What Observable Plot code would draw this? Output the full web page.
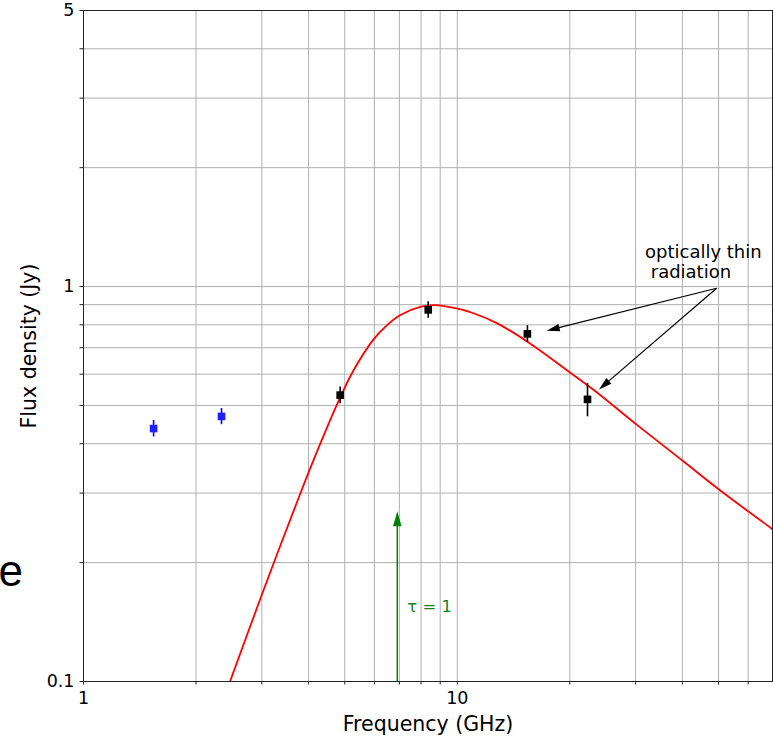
<!DOCTYPE html>
<html>
<head>
<meta charset="utf-8">
<script src="https://cdn.jsdelivr.net/npm/d3@7"></script>
<script src="https://cdn.jsdelivr.net/npm/@observablehq/plot@0.6"></script>
<style>
  html, body { margin: 0; padding: 0; background: #fff; }
  #chart svg { display: block; }
</style>
</head>
<body>
<div id="chart"></div>
<script>
// ---- axis ticks ----
const xTicks = [1, 2, 3, 4, 5, 6, 7, 8, 9, 10, 20, 30, 40, 50, 60];
const xTickLabels = [1, 10];
const yTicks = [0.1, 0.2, 0.3, 0.4, 0.5, 0.6, 0.7, 0.8, 0.9, 1, 2, 3, 4, 5];
const yTickLabels = [0.1, 1, 5];
const xDomain = [1, 69.7];
const yDomain = [0.1, 5];

// ---- low-frequency points (blue) ----
const lowFreq = [1.54, 2.34];
const lowFlux = [0.437, 0.469];
const lowErr = [0.021, 0.022];

// ---- fitted points (black) ----
const mainFreq = [4.86, 8.36, 15.4, 22.3];
const mainFlux = [0.531, 0.873, 0.759, 0.518];
const mainErr = [0.026, 0.042, 0.037, 0.050];

// ---- fitted spectrum (red) ----
const fitFreq = [2.466, 3.008, 3.795, 4.3, 4.857, 5.27, 5.962, 6.5, 7.027, 8.0, 8.72, 9.96, 11.0, 12.75, 15.65, 20.02, 23.6, 30.19, 40.24, 50.44, 69.7];
const fitFlux = [0.100, 0.167, 0.298, 0.400, 0.523, 0.612, 0.734, 0.800, 0.846, 0.889, 0.897, 0.880, 0.857, 0.808, 0.718, 0.606, 0.540, 0.447, 0.361, 0.305, 0.243];

// ---- annotations ----
const tauFreq = 6.91;
const tauTip = 0.270;
const tauLabel = "τ = 1";
const tauLabelPos = [7.35, 0.150];
const noteText = "optically thin\n\u00a0radiation";
const notePos = [31.78, 1.049];
const noteFrom = [49.4, 0.990];
const noteToFreq = [17.35, 23.94];
const noteToFlux = [0.773, 0.549];

const xAxisLabel = "Frequency (GHz)";
const yAxisLabel = "Flux density (Jy)";
const panelLabel = "e";

// ---- layout ----
const W = 773, H = 738;
const M = {top: 10, right: 1, bottom: 57, left: 83};

const low = lowFreq.map((f, i) => ({f, s: lowFlux[i], lo: lowFlux[i] - lowErr[i], hi: lowFlux[i] + lowErr[i]}));
const main = mainFreq.map((f, i) => ({f, s: mainFlux[i], lo: mainFlux[i] - mainErr[i], hi: mainFlux[i] + mainErr[i]}));
const fit = fitFreq.map((f, i) => ({f, s: fitFlux[i]}));

// library scales to compute arrowhead orientations
const sx = Plot.scale({x: {type: "log", domain: xDomain, range: [M.left, W - M.right]}});
const sy = Plot.scale({y: {type: "log", domain: yDomain, range: [H - M.bottom, M.top]}});

function headAngle(x1, y1, x2, y2) {
  const dx = sx.apply(x2) - sx.apply(x1);
  const dy = sy.apply(y2) - sy.apply(y1);
  return Math.atan2(dx, -dy) * 180 / Math.PI;
}
function headBase(x1, y1, x2, y2, len) {
  const px1 = sx.apply(x1), py1 = sy.apply(y1), px2 = sx.apply(x2), py2 = sy.apply(y2);
  const d = Math.hypot(px2 - px1, py2 - py1);
  const t = (d - len * 0.8) / d;
  return [sx.invert(px1 + (px2 - px1) * t), sy.invert(py1 + (py2 - py1) * t)];
}
const arrowHead = (len, wid) => ({
  draw(ctx) {
    ctx.moveTo(0, 0);
    ctx.lineTo(wid / 2, len);
    ctx.lineTo(-wid / 2, len);
    ctx.closePath();
  }
});

const notes = noteToFreq.map((f, i) => {
  const b = headBase(noteFrom[0], noteFrom[1], f, noteToFlux[i], 13);
  return {x1: noteFrom[0], y1: noteFrom[1], x2: f, y2: noteToFlux[i], bx: b[0], by: b[1],
          a: headAngle(noteFrom[0], noteFrom[1], f, noteToFlux[i])};
});
const tauBase = headBase(tauFreq, yDomain[0], tauFreq, tauTip, 14);
const tauArrow = [{x: tauFreq, y1: yDomain[0], y2: tauTip, by: tauBase[1], a: headAngle(tauFreq, yDomain[0], tauFreq, tauTip)}];

const chart = Plot.plot({
  width: W,
  height: H,
  marginTop: M.top,
  marginRight: M.right,
  marginBottom: M.bottom,
  marginLeft: M.left,
  style: {fontFamily: "'DejaVu Sans', sans-serif", fontSize: "17px", color: "#000", background: "#fff", overflow: "visible"},
  x: {type: "log", domain: xDomain},
  y: {type: "log", domain: yDomain},
  marks: [
    Plot.gridX(xTicks, {stroke: "#b0b0b0", strokeOpacity: 1, strokeWidth: 1}),
    Plot.gridY(yTicks, {stroke: "#b0b0b0", strokeOpacity: 1, strokeWidth: 1}),
    Plot.axisX(xTicks, {tickFormat: d => xTickLabels.includes(d) ? String(d) : "", tickSize: 3.5, tickPadding: 7, fontSize: 17.5, label: null, stroke: "#222"}),
    Plot.axisY(yTicks, {tickFormat: d => yTickLabels.includes(d) ? String(d) : "", tickSize: 3.5, tickPadding: 5.5, fontSize: 17.5, label: null, stroke: "#222"}),
    Plot.frame({stroke: "#222", strokeWidth: 1}),
    // fitted spectrum
    Plot.line(fit, {x: "f", y: "s", stroke: "#ff0000", strokeWidth: 1.8, curve: "catmull-rom", clip: true}),
    // error bars and markers
    Plot.ruleX(low, {x: "f", y1: "lo", y2: "hi", stroke: "#0000ff", strokeWidth: 1.6}),
    Plot.dot(low, {x: "f", y: "s", symbol: "square", r: 4.3, fill: "#2020ff", stroke: "none"}),
    Plot.ruleX(main, {x: "f", y1: "lo", y2: "hi", stroke: "#000", strokeWidth: 1.6}),
    Plot.dot(main, {x: "f", y: "s", symbol: "square", r: 4.3, fill: "#000", stroke: "none"}),
    // tau = 1 arrow
    Plot.ruleX(tauArrow, {x: "x", y1: "y1", y2: "by", stroke: "#008000", strokeWidth: 1.5}),
    Plot.dot(tauArrow, {x: "x", y: "y2", symbol: arrowHead(15, 8.5), rotate: "a", fill: "#008000", stroke: "none"}),
    Plot.text([tauLabel], {x: () => tauLabelPos[0], y: () => tauLabelPos[1], text: d => d, fill: "#1a801a", fontSize: 16.5, textAnchor: "start", lineAnchor: "bottom"}),
    // optically thin annotation
    Plot.link(notes, {x1: "x1", y1: "y1", x2: "bx", y2: "by", stroke: "#000", strokeWidth: 1.2}),
    Plot.dot(notes, {x: "x2", y: "y2", symbol: arrowHead(13, 7.5), rotate: "a", fill: "#000", stroke: "none"}),
    Plot.text([noteText], {x: () => notePos[0], y: () => notePos[1], text: d => d, fill: "#000", fontSize: 18, textAnchor: "start", lineAnchor: "bottom", lineHeight: 1.11}),
    // axis titles
    Plot.text([xAxisLabel], {frameAnchor: "bottom", dy: 49, text: d => d, fontSize: 20.5, textAnchor: "middle", lineAnchor: "bottom", fill: "#000"}),
    Plot.text([yAxisLabel], {frameAnchor: "left", dx: -47.5, rotate: -90, text: d => d, fontSize: 20.5, textAnchor: "middle", lineAnchor: "bottom", fill: "#000"}),
    // panel letter
    Plot.text([panelLabel], {frameAnchor: "bottom-left", dx: -85, dy: -96, text: d => d, fontSize: 44, fontFamily: "'Liberation Sans', Arial, sans-serif", textAnchor: "start", lineAnchor: "bottom", fill: "#000"})
  ]
});
document.getElementById("chart").appendChild(chart);
</script>
</body>
</html>
